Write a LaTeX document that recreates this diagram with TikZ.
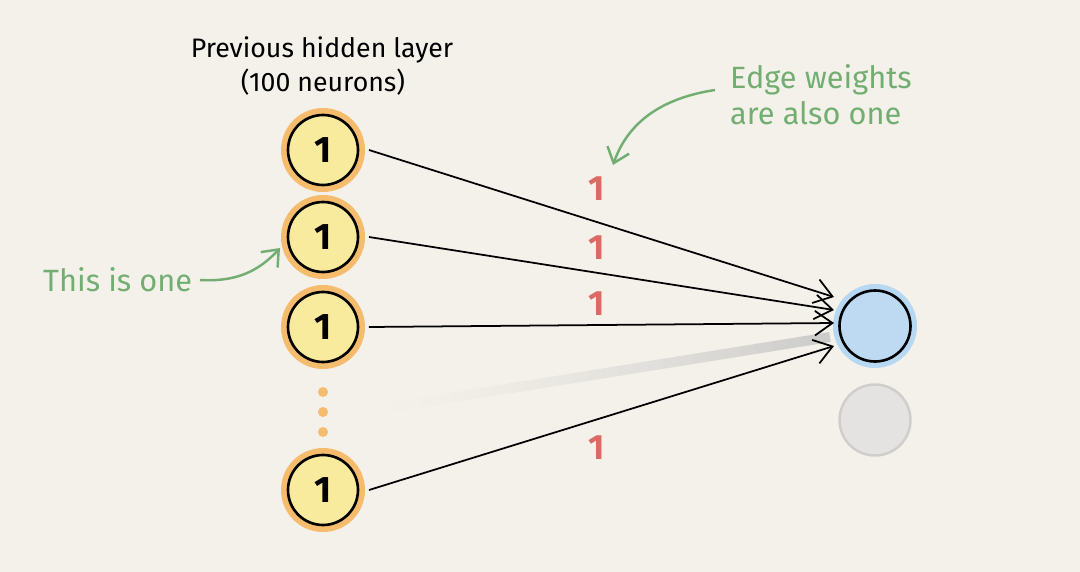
\documentclass[tikz,border=0pt]{standalone}
\usepackage{fontspec}
\setmainfont{Fira Sans}
\usetikzlibrary{arrows.meta,calc}
\definecolor{bg}{HTML}{F4F1EA}
\definecolor{halo}{HTML}{F4BC6C}
\definecolor{yel}{HTML}{F8EB9E}
\definecolor{bluef}{HTML}{BDDAF2}
\definecolor{blueh}{HTML}{B6D8F2}
\definecolor{ghostf}{HTML}{E4E3E1}
\definecolor{ghostd}{HTML}{CFCECC}
\definecolor{wred}{HTML}{DC6A64}
\definecolor{note}{HTML}{72AE72}
\tikzset{
  neuron/.style={circle, minimum size=1.4cm, inner sep=0pt, fill=yel, draw=black, line width=1.5pt,
    preaction={draw=halo, line width=0.28cm}, outer sep=0.22cm,
    font=\fontsize{21}{23}\selectfont\bfseries},
  outneuron/.style={circle, minimum size=1.42cm, inner sep=0pt, fill=bluef, draw=black, line width=1.5pt,
    preaction={draw=blueh, line width=0.26cm}},
  ghost/.style={circle, minimum size=1.42cm, inner sep=0pt, fill=ghostf, draw=ghostd, line width=1.4pt},
  dot/.style={circle, fill=halo, minimum size=0.2cm, inner sep=0pt},
  edge/.style={line width=1pt, -{Straight Barb[length=10pt, width=14pt, line width=1pt]}},
  wlabel/.style={text=wred, font=\fontsize{20}{22}\selectfont\bfseries},
  title/.style={font=\fontsize{15.2}{18}\selectfont},
  notetext/.style={text=note, font=\fontsize{17.5}{20.4}\selectfont},
  notearrow/.style={draw=note, line width=1.4pt, -{Straight Barb[length=8pt, width=13pt, line width=1.4pt]}}
}
\begin{document}
\begin{tikzpicture}[x=0.02cm, y=-0.02cm]
\fill[bg] (0,0) rectangle (1080,572);
\useasboundingbox (0,0) rectangle (1080,572);

% titles
\node[title] (t1) at (322,50) {Previous hidden layer};
\node[title] (t2) at (323,82) {(100 neurons)};

% nodes
\node[outneuron] (out) at (875,326) {};
\node[ghost] (g) at (875,420) {};

% faded edge
\coordinate (fs) at (375,410);
\coordinate (fe) at ($(out.center)+(-45,11)$);
\foreach \i in {0,...,29}{
  \pgfmathsetmacro{\op}{0.85*(\i/29)^1.5}
  \pgfmathsetmacro{\a}{\i/30}
  \pgfmathsetmacro{\b}{(\i+1)/30}
  \draw[line width=0.2cm, gray!45, opacity=\op, line cap=butt]
    ($(fs)!\a!(fe)$) -- ($(fs)!\b!(fe)$);
}

\node[neuron] (n1) at (323,150) {1};
\node[neuron] (n2) at (323,237) {1};
\node[neuron] (n3) at (323,327) {1};
\node[neuron] (n4) at (323,490) {1};
\node[dot] (d1) at (323,392) {};
\node[dot] (d2) at (323,412) {};
\node[dot] (d3) at (323,432) {};

% edge ends
\coordinate (e1) at ($(out.center)+(-41,-29)$);
\coordinate (e2) at ($(out.center)+(-41,-16)$);
\coordinate (e3) at ($(out.center)+(-41,-3)$);
\coordinate (e4) at ($(out.center)+(-41,20)$);

% edges
\draw[edge] (n1.east) -- (e1);
\draw[edge] (n2.east) -- (e2);
\draw[edge] (n3.east) -- (e3);
\draw[edge] (n4.east) -- (e4);

% weights
\node[wlabel] (w1) at (597,189) {1};
\node[wlabel] (w2) at (597,248) {1};
\node[wlabel] (w3) at (597,304) {1};
\node[wlabel] (w4) at (597,448) {1};

% notes
\node[notetext, anchor=west] (a) at (37,280) {This is one};
\coordinate (as) at (200,280);
\coordinate (ae) at (280,248);
\draw[notearrow] (as) .. controls (235,282) and (258,272) .. (ae);

\node[notetext, anchor=west, align=left] (b) at (724,95) {Edge weights\\are also one};
\coordinate (bs) at (715,90);
\coordinate (be) at (613,165);
\draw[notearrow] (bs) .. controls (662,98) and (628,122) .. (be);
\end{tikzpicture}
\end{document}
